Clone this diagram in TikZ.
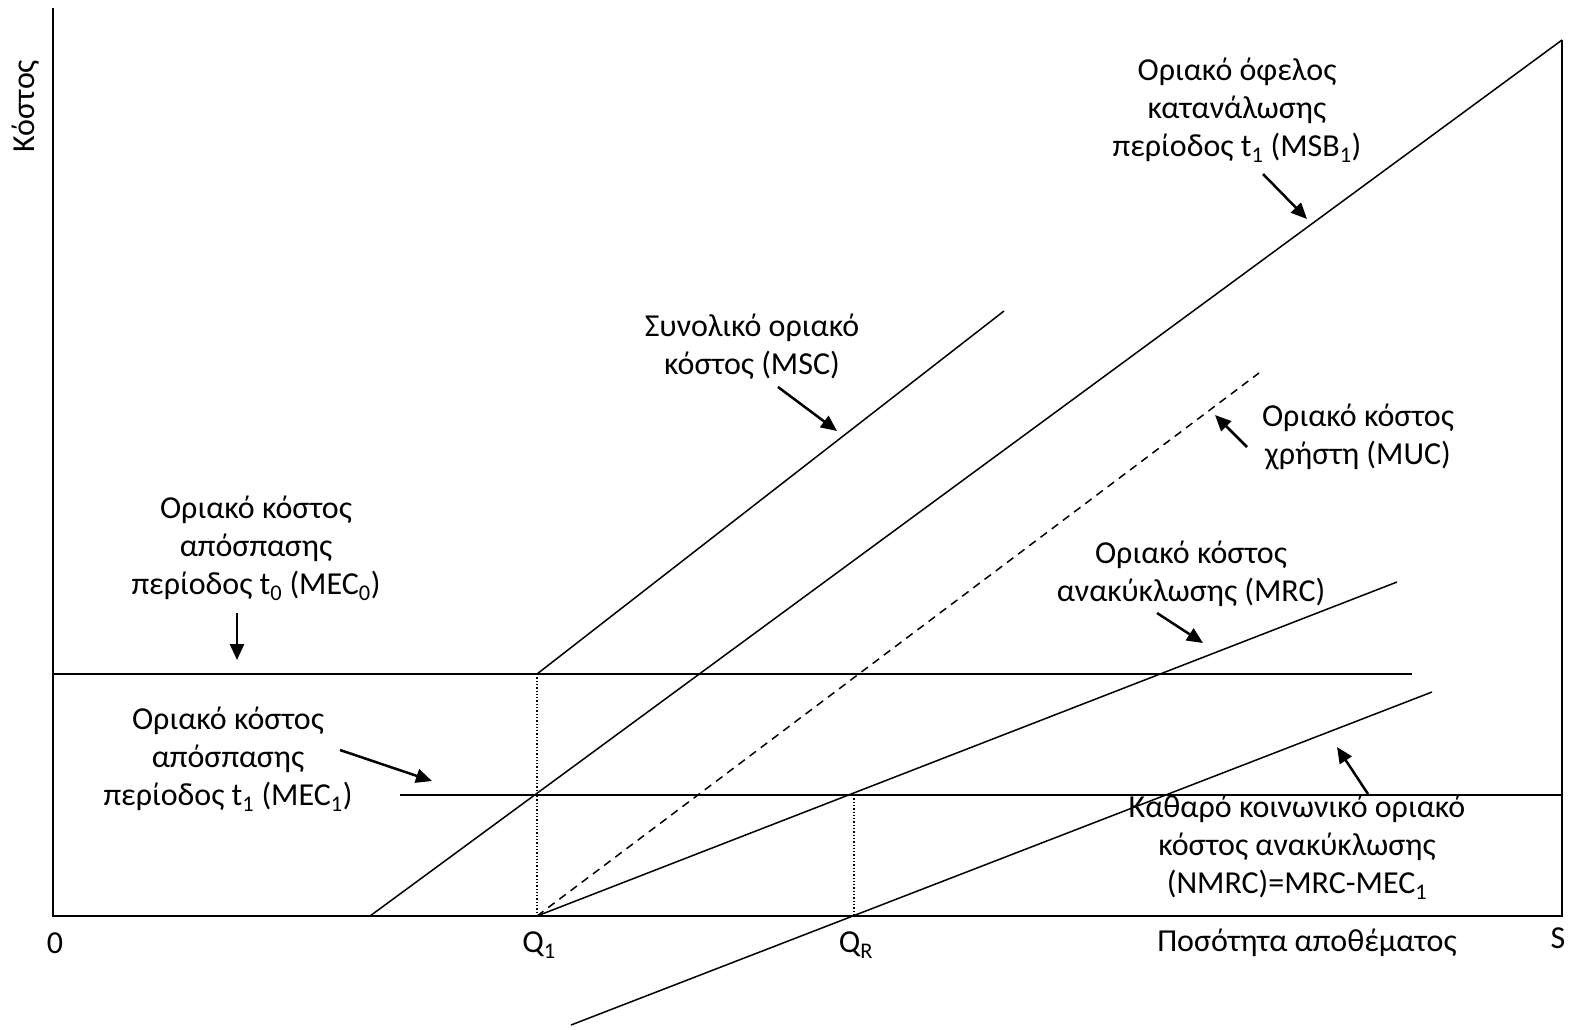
\documentclass[tikz,border=0pt]{standalone}
\usepackage{fontspec}
\setmainfont{Carlito}
\usetikzlibrary{arrows.meta}
\begin{document}
\begin{tikzpicture}[x=1pt,y=-1pt,
  curve/.style={line width=1.5pt},
  axisline/.style={line width=2pt},
  guide/.style={line width=1.3pt, dotted},
  dashcurve/.style={line width=1.5pt, dash pattern=on 8pt off 6pt},
  lbl/.style={font=\fontsize{32}{38}\selectfont, align=center, inner sep=0pt},
  pointer/.style={line width=2.5pt, -{Triangle[length=16pt,width=14pt]}}]
\useasboundingbox (0,0) rectangle (1573,1029);
% axes and frame
\coordinate (O) at (53,916);
\coordinate (Ytop) at (53,8);
\coordinate (Xend) at (1562,916);
\coordinate (Rtop) at (1562,40);
\draw[axisline] (Ytop) -- (O) -- (Xend) -- (Rtop);
% curve end points
\coordinate (mec0a) at (53,674);   \coordinate (mec0b) at (1412,674);
\coordinate (mec1a) at (400,795);  \coordinate (mec1b) at (1562,795);
\coordinate (mscA) at (537,674);   \coordinate (mscB) at (1004,311);
\coordinate (msbA) at (370,916);   \coordinate (msbB) at (1562,40);
\coordinate (Q1) at (537,916);     \coordinate (mucB) at (1259,373);
\coordinate (mrcB) at (1397,582);
\coordinate (nmA) at (571,1025);   \coordinate (nmB) at (1432,692);
\coordinate (QR) at (854,916);     \coordinate (qrTop) at (854,795);
\draw[curve] (mec0a) -- (mec0b);
\draw[curve] (mec1a) -- (mec1b);
\draw[curve] (mscA) -- (mscB);
\draw[curve] (msbA) -- (msbB);
\draw[dashcurve] (Q1) -- (mucB);
\draw[curve] (Q1) -- (mrcB);
\draw[curve] (nmA) -- (nmB);
\draw[guide] (mscA) -- (Q1);
\draw[guide] (qrTop) -- (QR);
% axis labels
\node[lbl, rotate=90] (ylab) at (26,106) {Κόστος};
\node[lbl] (zero) at (55,943) {0};
\node[lbl] (q1lab) at (539,945) {Q\textsubscript{1}};
\node[lbl] (qrlab) at (856,945) {Q\textsubscript{R}};
\node[lbl] (xlab) at (1307,943) {Ποσότητα αποθέματος};
\node[lbl] (slab) at (1558,938) {S};
% curve labels
\node[lbl] (msb) at (1237,110) {Οριακό όφελος\\κατανάλωσης\\περίοδος t\textsubscript{1} (MSB\textsubscript{1})};
\node[lbl] (msc) at (752,347) {Συνολικό οριακό\\κόστος (MSC)};
\node[lbl] (muc) at (1358,437) {Οριακό κόστος\\χρήστη (MUC)};
\node[lbl] (mec0) at (256,548) {Οριακό κόστος\\απόσπασης\\περίοδος t\textsubscript{0} (MEC\textsubscript{0})};
\node[lbl] (mec1) at (228,759) {Οριακό κόστος\\απόσπασης\\περίοδος t\textsubscript{1} (MEC\textsubscript{1})};
\node[lbl] (mrc) at (1191,574) {Οριακό κόστος\\ανακύκλωσης (MRC)};
\node[lbl] (nmrc) at (1297,847) {Καθαρό κοινωνικό οριακό\\κόστος ανακύκλωσης\\(NMRC)=MRC-MEC\textsubscript{1}};
% pointers
\coordinate (pMSBa) at (1263,174);  \coordinate (pMSBb) at (1307,219);
\coordinate (pMSCa) at (778,387);   \coordinate (pMSCb) at (837,431);
\coordinate (pMUCa) at (1247,447);  \coordinate (pMUCb) at (1215,415);
\coordinate (pM0a) at (237,613);    \coordinate (pM0b) at (237,660);
\coordinate (pM1a) at (340,750);    \coordinate (pM1b) at (432,781);
\coordinate (pMRCa) at (1157,613);  \coordinate (pMRCb) at (1203,643);
\coordinate (pNMa) at (1368,794);   \coordinate (pNMb) at (1337,747);
\draw[pointer] (pMSBa) -- (pMSBb);
\draw[pointer] (pMSCa) -- (pMSCb);
\draw[pointer] (pMUCa) -- (pMUCb);
\draw[pointer] (pM0a) -- (pM0b);
\draw[pointer] (pM1a) -- (pM1b);
\draw[pointer] (pMRCa) -- (pMRCb);
\draw[pointer] (pNMa) -- (pNMb);
\end{tikzpicture}
\end{document}
